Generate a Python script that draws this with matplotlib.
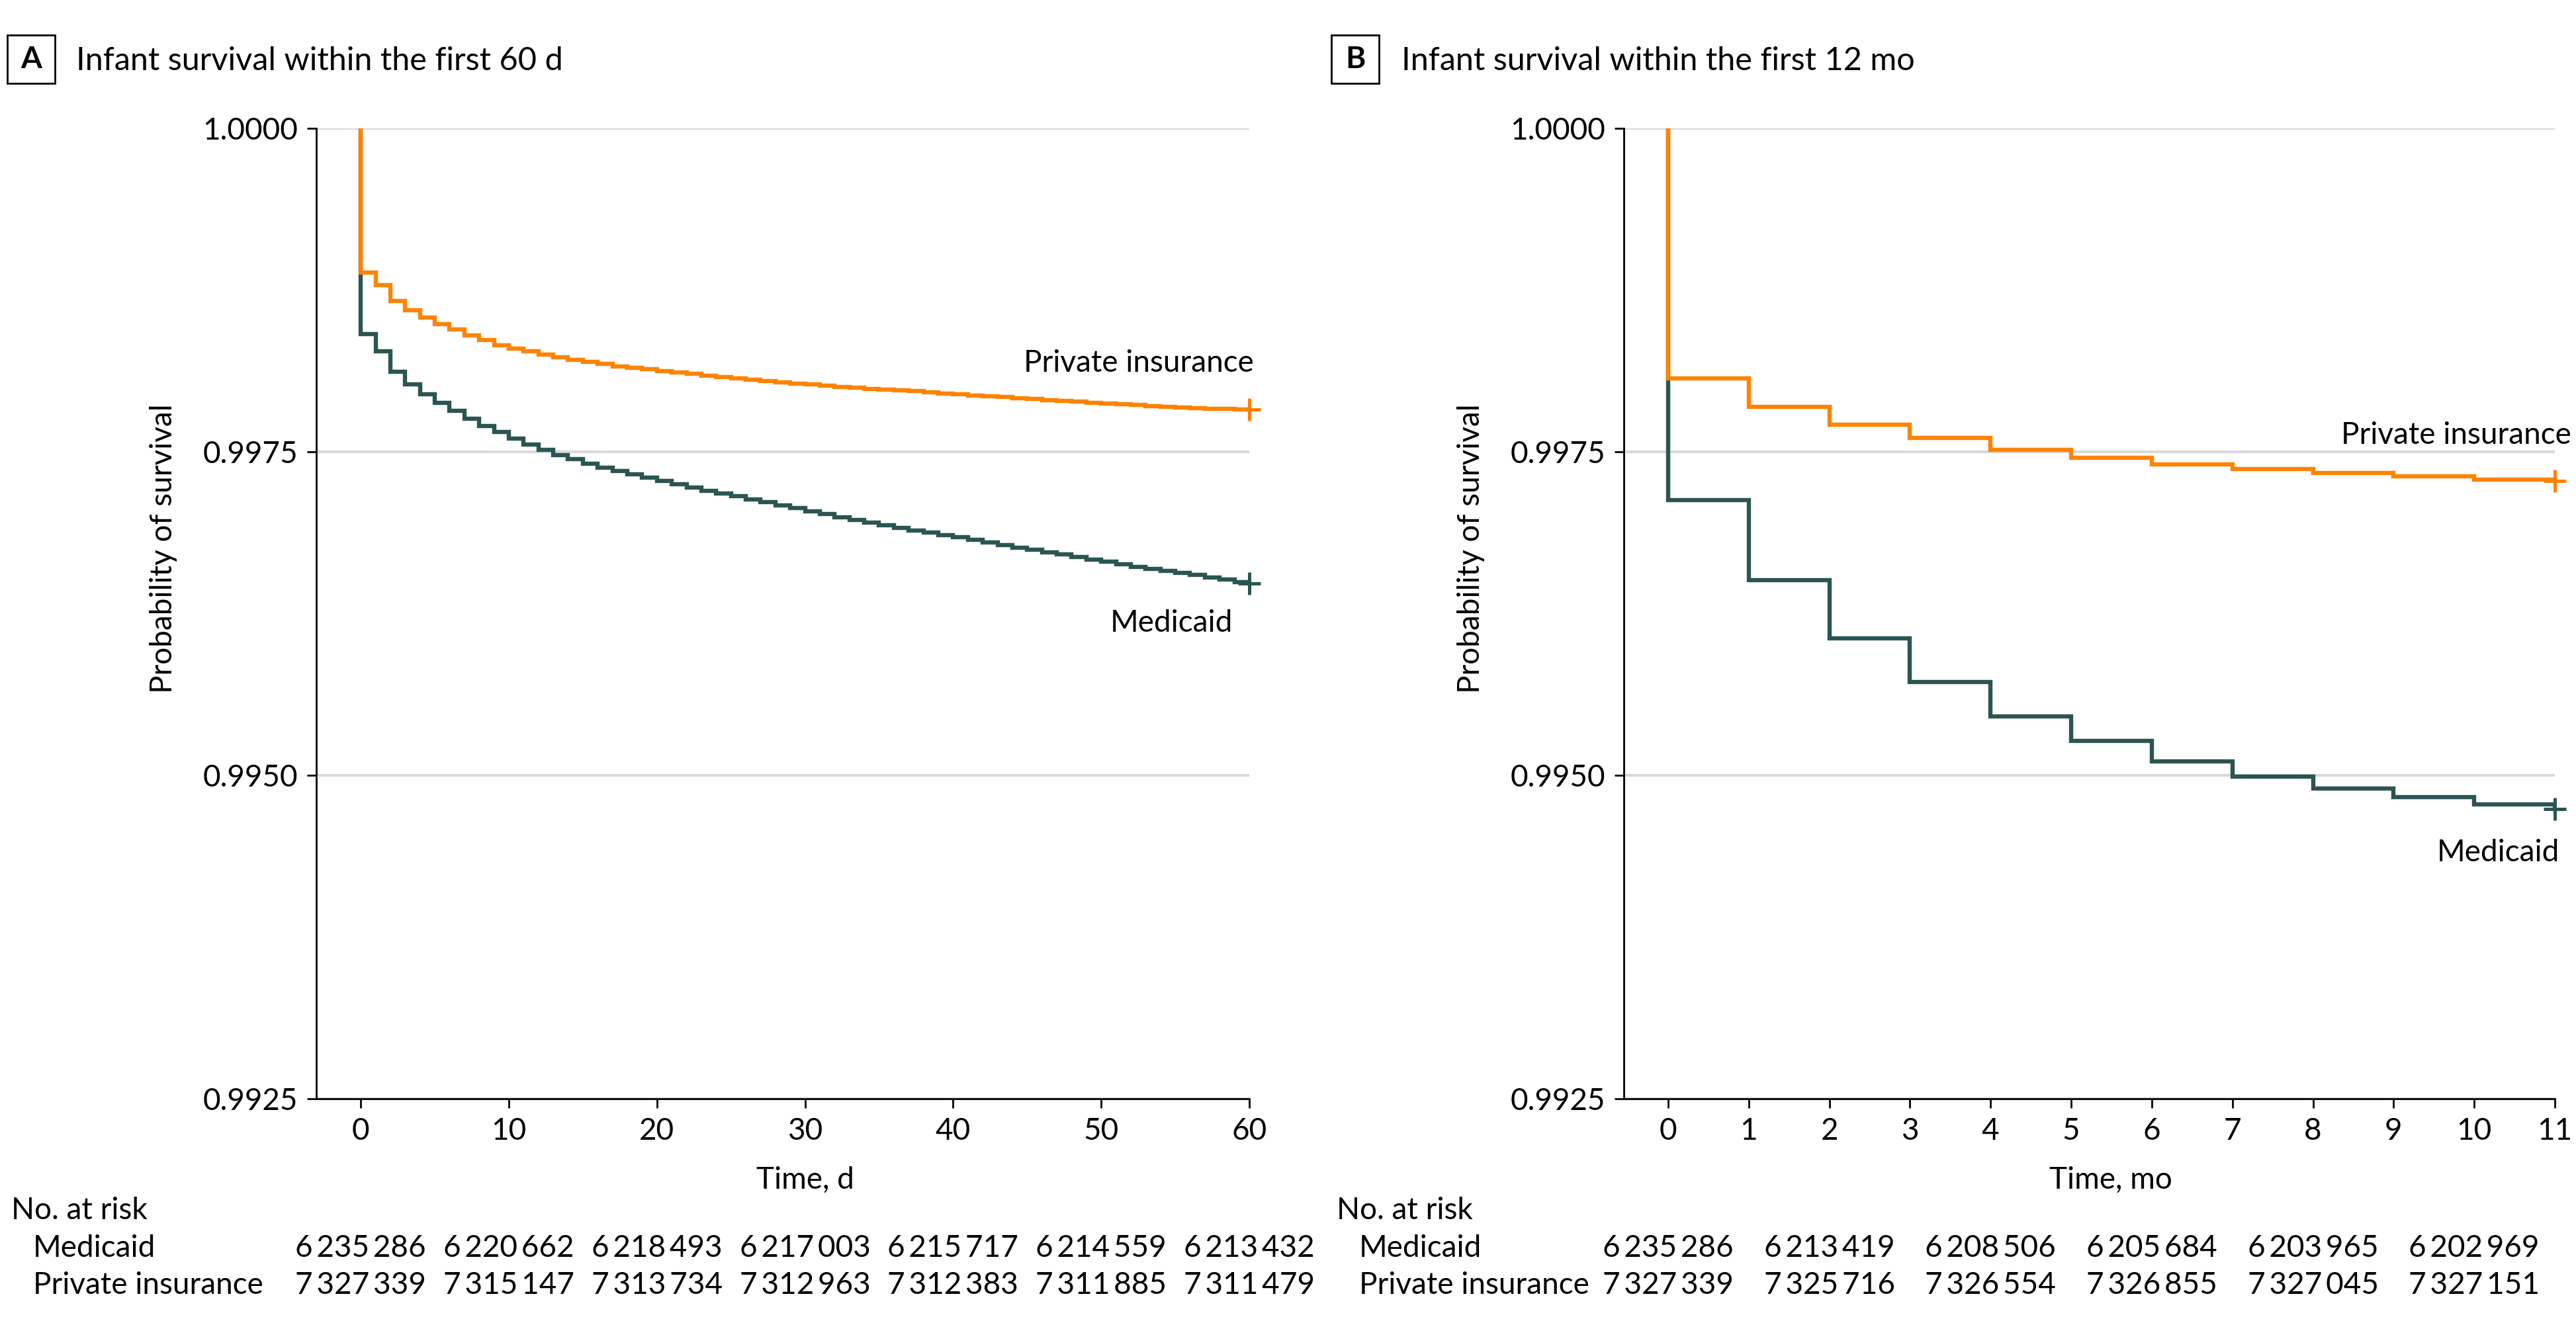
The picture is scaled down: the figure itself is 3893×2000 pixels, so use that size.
import matplotlib
matplotlib.use('Agg')
import matplotlib.pyplot as plt
import numpy as np
from matplotlib.patches import Rectangle
from matplotlib.transforms import blended_transform_factory

plt.rcParams['font.family'] = ['Lato', 'DejaVu Sans']
plt.rcParams['font.size'] = 16.5

W, H = 3893, 2000
ORANGE = '#FF8300'
GREEN = '#2A5552'

# Panel A: daily Kaplan-Meier estimates, days 0..60
days = np.arange(0, 61)
private_60d = [
    0.998884, 0.998787, 0.998668, 0.998593, 0.998536, 0.998486, 0.998446, 0.998400,
    0.998362, 0.998325, 0.998300, 0.998276, 0.998252, 0.998232, 0.998212, 0.998196,
    0.998179, 0.998162, 0.998150, 0.998137, 0.998125, 0.998113, 0.998102, 0.998089,
    0.998079, 0.998067, 0.998056, 0.998046, 0.998038, 0.998028, 0.998019, 0.998011,
    0.998002, 0.997995, 0.997987, 0.997981, 0.997975, 0.997968, 0.997960, 0.997951,
    0.997943, 0.997935, 0.997928, 0.997922, 0.997915, 0.997908, 0.997901, 0.997895,
    0.997888, 0.997880, 0.997873, 0.997868, 0.997861, 0.997855, 0.997849, 0.997844,
    0.997839, 0.997834, 0.997830, 0.997827, 0.997825]
medicaid_60d = [
    0.998410, 0.998276, 0.998120, 0.998020, 0.997944, 0.997880, 0.997819, 0.997758,
    0.997701, 0.997651, 0.997600, 0.997554, 0.997514, 0.997475, 0.997442, 0.997408,
    0.997377, 0.997350, 0.997326, 0.997303, 0.997275, 0.997250, 0.997226, 0.997200,
    0.997177, 0.997155, 0.997131, 0.997109, 0.997086, 0.997064, 0.997041, 0.997017,
    0.996995, 0.996971, 0.996952, 0.996932, 0.996911, 0.996893, 0.996874, 0.996857,
    0.996838, 0.996818, 0.996799, 0.996779, 0.996760, 0.996741, 0.996722, 0.996706,
    0.996687, 0.996668, 0.996649, 0.996631, 0.996612, 0.996595, 0.996578, 0.996564,
    0.996547, 0.996530, 0.996513, 0.996495, 0.996484]

# Panel B: monthly estimates, months 0..11
months = np.arange(0, 12)
private_12m = [0.998070, 0.997848, 0.997711, 0.997606, 0.997517, 0.997453,
               0.997405, 0.997366, 0.997334, 0.997311, 0.997286, 0.997276]
medicaid_12m = [0.997128, 0.996509, 0.996060, 0.995720, 0.995456, 0.995267,
                0.995105, 0.994991, 0.994900, 0.994831, 0.994774, 0.994740]

# numbers at risk
risk_days = [0, 10, 20, 30, 40, 50, 60]
risk_medicaid_60d = [6235286, 6220662, 6218493, 6217003, 6215717, 6214559, 6213432]
risk_private_60d = [7327339, 7315147, 7313734, 7312963, 7312383, 7311885, 7311479]
risk_months = [0, 2, 4, 6, 8, 10]
risk_medicaid_12m = [6235286, 6213419, 6208506, 6205684, 6203965, 6202969]
risk_private_12m = [7327339, 7325716, 7326554, 7326855, 7327045, 7327151]

y_ticks = [0.9925, 0.9950, 0.9975, 1.0000]


def fmt(n):
    return f'{n:,}'.replace(',', '\u2009')


def style_axes(ax, xmin, xmax, xticks):
    ax.set_xlim(xmin, xmax)
    ax.set_ylim(0.9925, 1.0)
    ax.spines['top'].set_visible(False)
    ax.spines['right'].set_visible(False)
    for s in ['left', 'bottom']:
        ax.spines[s].set_linewidth(1.0)
    ax.set_yticks(y_ticks)
    ax.set_yticklabels([f'{v:.4f}' for v in y_ticks])
    ax.set_xticks(xticks)
    ax.tick_params(axis='both', length=5, width=1.0, color='black')
    ax.tick_params(axis='y', pad=5)
    ax.tick_params(axis='x', pad=5)
    ax.yaxis.grid(True, color='#d9d9d9', lw=1.5)
    ax.set_axisbelow(True)
    ax.set_ylabel('Probability of survival')
    ax.yaxis.set_label_coords(-0.149, 0.567)


def km(ax, t, s, color, xend):
    ax.step(np.r_[0, t], np.r_[1.0, s], where='post', color=color, lw=2.3,
            solid_joinstyle='miter')
    ax.plot(xend, s[-1], marker='+', ms=12.5, mew=1.8, color=color, clip_on=False)


def risk_table(ax, xs, med, priv, x_lab, x_ind):
    tr = blended_transform_factory(ax.transData, fig.transFigure)
    fig.text(x_lab / W, 1 - 1830 / H, 'No. at risk', va='center')
    fig.text(x_ind / W, 1 - 1887 / H, 'Medicaid', va='center')
    fig.text(x_ind / W, 1 - 1943 / H, 'Private insurance', va='center')
    for x, m, p in zip(xs, med, priv):
        ax.text(x, 1 - 1887 / H, fmt(m), ha='center', va='center', transform=tr)
        ax.text(x, 1 - 1943 / H, fmt(p), ha='center', va='center', transform=tr)


def panel_title(letter, x_box, x_text, title):
    fig.add_artist(Rectangle((x_box / W, 1 - 126 / H), 72 / W, 73 / H,
                             transform=fig.transFigure, fill=False, ec='black', lw=1.0))
    fig.text((x_box + 36) / W, 1 - 90 / H, letter, ha='center', va='center',
             fontweight='bold')
    fig.text(x_text / W, 1 - 92 / H, title, va='center', fontsize=17.5)


fig = plt.figure(figsize=(W / 200, H / 200), dpi=200)
axA = fig.add_axes([478 / W, 1 - 1661 / H, (1888 - 478) / W, (1661 - 194) / H])
axB = fig.add_axes([2454 / W, 1 - 1661 / H, (3861 - 2454) / W, (1661 - 194) / H])

# Panel A
style_axes(axA, -3, 60, range(0, 61, 10))
km(axA, days, medicaid_60d, GREEN, 60)
km(axA, days, private_60d, ORANGE, 60)
axA.text(60.3, 0.998119, 'Private insurance', ha='right', va='baseline')
axA.text(58.9, 0.996110, 'Medicaid', ha='right', va='baseline')
axA.set_xlabel('Time, d')
axA.xaxis.set_label_coords(0.524, -0.069)
risk_table(axA, risk_days, risk_medicaid_60d, risk_private_60d, 17, 50)
panel_title('A', 11, 115, 'Infant survival within the first 60 d')

# Panel B
style_axes(axB, -0.55, 11, range(0, 12))
km(axB, months, medicaid_12m, GREEN, 11)
km(axB, months, private_12m, ORANGE, 11)
axB.text(11.2, 0.997559, 'Private insurance', ha='right', va='baseline')
axB.text(11.06, 0.994333, 'Medicaid', ha='right', va='baseline')
axB.set_xlabel('Time, mo')
axB.xaxis.set_label_coords(0.523, -0.069)
risk_table(axB, risk_months, risk_medicaid_12m, risk_private_12m, 2020, 2054)
panel_title('B', 2012, 2118, 'Infant survival within the first 12 mo')

fig.savefig('out.png', dpi=200)
